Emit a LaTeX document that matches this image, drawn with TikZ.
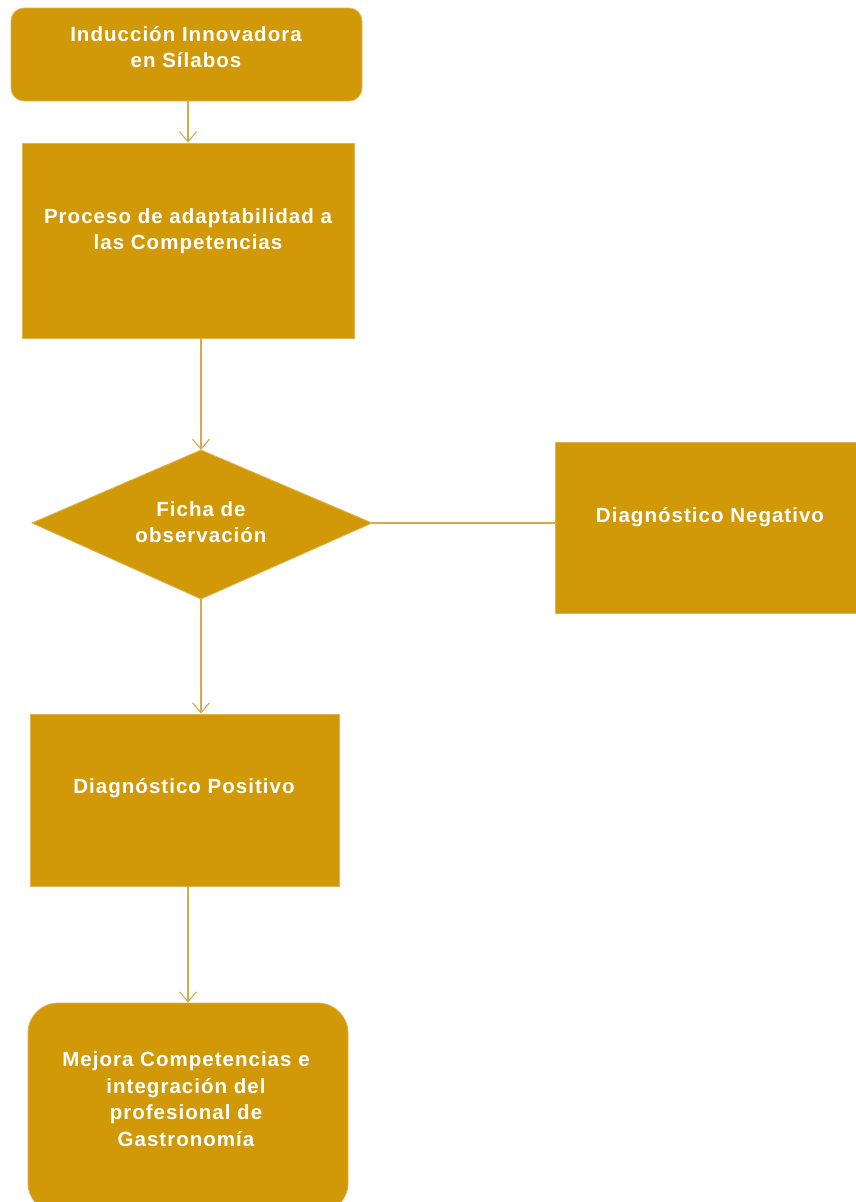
\documentclass[tikz,border=0pt]{standalone}
\usepackage{fontspec}
\setmainfont{Liberation Sans}[LetterSpace=5]
\usetikzlibrary{arrows.meta}
\definecolor{gold}{RGB}{209,153,8}
\definecolor{goldedge}{RGB}{222,180,80}
\definecolor{goldline}{RGB}{214,170,72}
\begin{document}
\begin{tikzpicture}[x=1pt,y=-1pt,
  box/.style={fill=gold, draw=goldedge, line width=0.8pt, inner sep=0pt},
  lbl/.style={text=white, font=\bfseries\fontsize{20.5}{26.5}\selectfont, align=center, inner sep=0pt},
  conn/.style={draw=goldline, line width=1.1pt},
  arr/.style={conn, -{Straight Barb[length=10pt,width=17pt,line width=1.1pt]}}]
\useasboundingbox (0,0) rectangle (855,1202);
\fill[white] (0,0) rectangle (855,1202);

% shapes
\node[box, rounded corners=13pt, minimum width=351pt, minimum height=93pt] (n1) at (186.5,54.5) {};
\node[box, minimum width=332pt, minimum height=195pt] (n2) at (188,240.5) {};
\coordinate (dT) at (201,450);
\coordinate (dB) at (201,599);
\coordinate (dL) at (32,523);
\coordinate (dR) at (372,523);
\filldraw[box] (dT) -- (dR) -- (dB) -- (dL) -- cycle;
\node[box, minimum width=302pt, minimum height=171pt] (n3) at (706,527.5) {};
\node[box, minimum width=309pt, minimum height=172pt] (n4) at (184.5,800) {};
\node[box, rounded corners=30pt, minimum width=320pt, minimum height=210pt] (n5) at (188,1108) {};

% texts
\node[lbl] (t1) at (186,47) {Inducción Innovadora\\en Sílabos};
\node[lbl] (t2) at (188,231) {Proceso de adaptabilidad a\\las Competencias};
\node[lbl] (t3) at (201,522) {Ficha de\\observación};
\node[lbl] (t4) at (710,517) {Diagnóstico Negativo};
\node[lbl] (t5) at (184,788) {Diagnóstico Positivo};
\node[lbl] (t6) at (186,1099) {Mejora Competencias e\\integración del\\profesional de\\Gastronomía};

% connectors
\draw[arr] ([xshift=1.5pt]n1.south) -- (n2.north);
\draw[arr] (n2.south -| dT) -- (dT);
\draw[conn] (dR) -- (dR -| n3.west);
\draw[arr] (dB) -- (n4.north -| dB);
\draw[arr] (n4.south -| n5.north) -- (n5.north);
\end{tikzpicture}
\end{document}
